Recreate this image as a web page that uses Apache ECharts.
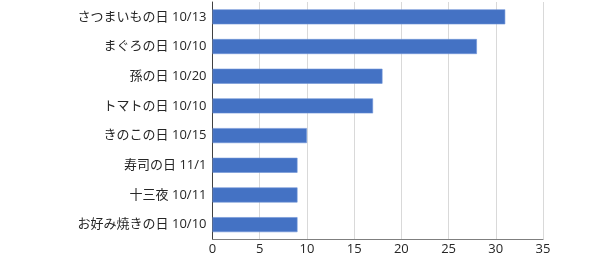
<!DOCTYPE html>
<html><head><meta charset="utf-8">
<script src="https://cdn.jsdelivr.net/npm/echarts@6/dist/echarts.min.js"></script>
<style>html,body{margin:0;padding:0;background:#fff}#c{width:600px;height:258px}</style>
</head><body><div id="c"></div>
<script>
const categories = ['さつまいもの日 10/13','まぐろの日 10/10','孫の日 10/20','トマトの日 10/10','きのこの日 10/15','寿司の日 11/1','十三夜 10/11','お好み焼きの日 10/10'];
const values = [31, 28, 18, 17, 10, 9, 9, 9];
const xTicks = [0, 5, 10, 15, 20, 25, 30, 35];
const font = '"Open Sans", "Noto Sans CJK JP", sans-serif';
const chart = echarts.init(document.getElementById('c'), null, {renderer:'canvas'});
chart.setOption({
  animation: false,
  grid: {left: 212.5, right: 57, top: 2, bottom: 18.5, containLabel: false},
  xAxis: {
    type: 'value', min: xTicks[0], max: xTicks[xTicks.length-1], interval: 5,
    axisLine: {show: true, lineStyle: {color: '#7f7f7f', width: 1}},
    axisTick: {show: false},
    splitLine: {show: true, lineStyle: {color: '#d9d9d9', width: 1}},
    axisLabel: {color: '#262626', fontSize: 13, fontFamily: font, margin: 3}
  },
  yAxis: {
    type: 'category', data: categories, inverse: true,
    axisLine: {show: true, lineStyle: {color: '#404040', width: 1}},
    axisTick: {show: false},
    axisLabel: {color: '#262626', fontSize: 13, fontFamily: font, margin: 6}
  },
  series: [{
    type: 'bar', data: values, barWidth: 15,
    itemStyle: {color: '#4472C4', borderColor: '#6f94d6', borderWidth: 0.6}
  }]
});
</script></body></html>
